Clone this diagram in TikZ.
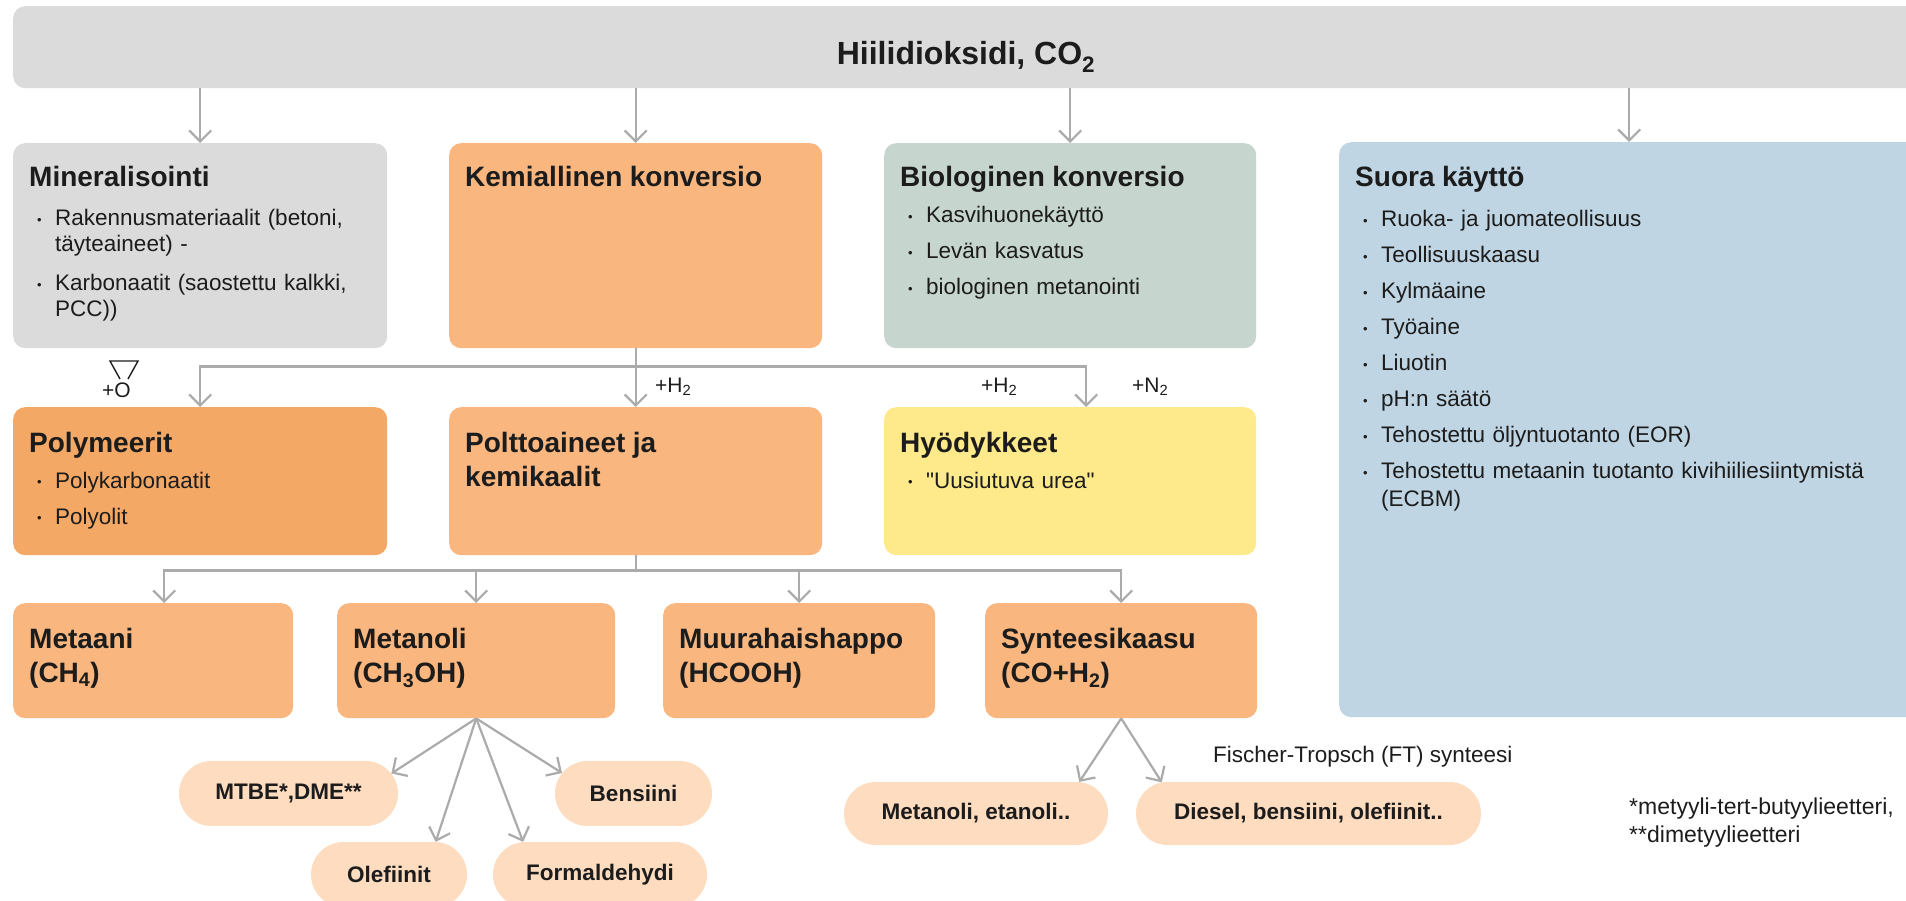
\documentclass[tikz,border=0pt]{standalone}
\usepackage{fontspec}
\setmainfont{Liberation Sans}
\usepackage{xcolor}
\usepackage{tikz}
\usetikzlibrary{shapes,arrows.meta,positioning,calc}

\definecolor{cgray}{HTML}{DBDBDB}
\definecolor{corange}{HTML}{F9B77F}
\definecolor{cdark}{HTML}{F4A866}
\definecolor{cgreen}{HTML}{C6D5CE}
\definecolor{cblue}{HTML}{C0D5E3}
\definecolor{cyellow}{HTML}{FEEA8B}
\definecolor{cpill}{HTML}{FDDCC0}
\definecolor{cline}{HTML}{ABABAB}
\definecolor{ctext}{HTML}{1C1C1C}

\newcommand{\ttl}{\fontsize{28}{34}\selectfont\bfseries}
\newcommand{\dotmark}{\raisebox{1.5pt}{\fontsize{13}{13}\selectfont\textbullet}}
\newcommand{\bpt}[2][8pt]{\par\vspace{#1}\noindent\hbox to 8pt{}\hbox to 18pt{\dotmark\hfil}#2}
\newcommand{\cont}[1]{\par\noindent\hbox to 26pt{}#1}

\begin{document}
\begin{tikzpicture}[x=1pt, y=-1pt, >={Straight Barb[length=11pt,width=22pt]}]
    % Define styles
    \tikzstyle{box} = [rectangle, rounded corners=12pt, anchor=north west, inner sep=0pt]
    \tikzstyle{txt} = [anchor=base west, inner sep=0pt, align=left, text=ctext, font=\fontsize{22.5}{28}\selectfont]
    \tikzstyle{pill} = [rounded rectangle, inner sep=0pt, fill=cpill, text=ctext, font=\fontsize{22.5}{27}\selectfont\bfseries]
    \tikzstyle{lbl} = [anchor=base west, inner sep=0pt, text=ctext, font=\fontsize{21}{24}\selectfont]
    \tikzstyle{conn} = [draw=cline, line width=2.2pt]

    \useasboundingbox (0,0) rectangle (1906,901);
    \clip (0,0) rectangle (1906,901);

    % Source
    \node[box, fill=cgray, minimum width=1906pt, minimum height=82pt] (co2) at (13,6) {};
    \node[anchor=base, inner sep=0pt, text=ctext, font=\fontsize{32}{38}\selectfont\bfseries] (co2-t) at (966,65) {Hiilidioksidi, CO\textsubscript{2}};

    % First row
    \node[box, fill=cgray, minimum width=374pt, minimum height=205pt] (mineral) at (13,143) {};
    \node[box, fill=corange, minimum width=373pt, minimum height=205pt] (kemia) at (449,143) {};
    \node[box, fill=cgreen, minimum width=372pt, minimum height=205pt] (bio) at (884,143) {};
    \node[box, fill=cblue, minimum width=580pt, minimum height=575pt] (suora) at (1339,142) {};

    \node[txt, text width=342pt, font=\fontsize{22.5}{26}\selectfont] (mineral-t) at ([shift={(16,44)}]mineral.north west)
        {{\ttl Mineralisointi\par}\bpt[13pt]{Rakennusmateriaalit (betoni,}\cont{täyteaineet) -}\bpt[13pt]{Karbonaatit (saostettu kalkki,}\cont{PCC))}\par};
    \node[txt, text width=341pt] (kemia-t) at ([shift={(16,44)}]kemia.north west) {{\ttl Kemiallinen konversio\par}};
    \node[txt, text width=340pt] (bio-t) at ([shift={(16,44)}]bio.north west)
        {{\ttl Biologinen konversio\par}\bpt{Kasvihuonekäyttö}\bpt{Levän kasvatus}\bpt{biologinen metanointi}\par};
    \node[txt, text width=548pt] (suora-t) at ([shift={(16,45)}]suora.north west)
        {{\ttl Suora käyttö\par}\bpt[12pt]{Ruoka- ja juomateollisuus}\bpt{Teollisuuskaasu}\bpt{Kylmäaine}\bpt{Työaine}\bpt{Liuotin}\bpt{pH:n säätö}\bpt{Tehostettu öljyntuotanto (EOR)}\bpt{Tehostettu metaanin tuotanto kivihiiliesiintymistä}\cont{(ECBM)}\par};

    % Second row
    \node[box, fill=cdark, minimum width=374pt, minimum height=148pt] (poly) at (13,407) {};
    \node[box, fill=corange, minimum width=373pt, minimum height=148pt] (polt) at (449,407) {};
    \node[box, fill=cyellow, minimum width=372pt, minimum height=148pt] (hyod) at (884,407) {};

    \node[txt, text width=342pt] (poly-t) at ([shift={(16,45)}]poly.north west)
        {{\ttl Polymeerit\par}\bpt{Polykarbonaatit}\bpt{Polyolit}\par};
    \node[txt, text width=341pt] (polt-t) at ([shift={(16,45)}]polt.north west) {{\ttl Polttoaineet ja\newline kemikaalit\par}};
    \node[txt, text width=340pt] (hyod-t) at ([shift={(16,45)}]hyod.north west)
        {{\ttl Hyödykkeet\par}\bpt{\textquotedbl Uusiutuva urea\textquotedbl}\par};

    % Third row
    \node[box, fill=corange, minimum width=280pt, minimum height=115pt] (metaani) at (13,603) {};
    \node[box, fill=corange, minimum width=278pt, minimum height=115pt] (metanoli) at (337,603) {};
    \node[box, fill=corange, minimum width=272pt, minimum height=115pt] (muura) at (663,603) {};
    \node[box, fill=corange, minimum width=272pt, minimum height=115pt] (synt) at (985,603) {};

    \node[txt, text width=250pt] (metaani-t) at ([shift={(16,45)}]metaani.north west) {{\ttl Metaani\newline (CH\textsubscript{4})\par}};
    \node[txt, text width=248pt] (metanoli-t) at ([shift={(16,45)}]metanoli.north west) {{\ttl Metanoli\newline (CH\textsubscript{3}OH)\par}};
    \node[txt, text width=242pt] (muura-t) at ([shift={(16,45)}]muura.north west) {{\ttl Muurahaishappo\newline (HCOOH)\par}};
    \node[txt, text width=242pt] (synt-t) at ([shift={(16,45)}]synt.north west) {{\ttl Synteesikaasu\newline (CO+H\textsubscript{2})\par}};

    % Products
    \node[pill, minimum width=219pt, minimum height=65pt] (mtbe) at (288.5,793.5) {MTBE*,DME**};
    \node[pill, minimum width=157pt, minimum height=65pt] (bens) at (633.5,793.5) {Bensiini};
    \node[pill, minimum width=156pt, minimum height=65pt] (olef) at (389,874.5) {Olefiinit};
    \node[pill, minimum width=214pt, minimum height=65pt] (form) at (600,874.5) {Formaldehydi};
    \node[pill, minimum width=264pt, minimum height=63pt] (etan) at (976,813.5) {Metanoli, etanoli..};
    \node[pill, minimum width=345pt, minimum height=63pt] (diesel) at (1308.5,813.5) {Diesel, bensiini, olefiinit..};

    % Labels
    \node[lbl] (plus-o) at (102,397) {+O};
    \draw[ctext, line width=1.4pt] (120,379) -- (110,361) -- (138,361) -- (128,379);
    \node[lbl] (h2-a) at (655,392) {+H\textsubscript{2}};
    \node[lbl] (h2-b) at (981,392) {+H\textsubscript{2}};
    \node[lbl] (n2) at (1132,392) {+N\textsubscript{2}};
    \node[lbl, font=\fontsize{22.5}{27}\selectfont] (ft) at (1213,762) {Fischer-Tropsch (FT) synteesi};
    \node[txt, text width=290pt, font=\fontsize{23}{28}\selectfont] (note) at (1629,814) {*metyyli-tert-butyylieetteri,\newline **dimetyylieetteri};

    % Source arrows
    \draw[conn, ->] (co2.south -| mineral.north) -- (mineral.north);
    \draw[conn, ->] (co2.south -| kemia.north) -- (kemia.north);
    \draw[conn, ->] (co2.south -| bio.north) -- (bio.north);
    \draw[conn, ->] (co2.south -| suora.north) -- (suora.north);

    % Chemical conversion
    \draw[conn, ->] (kemia.south) -- (polt.north);
    \draw[conn, ->] (kemia.south) -- ++(0,18) -| (poly.north);
    \draw[conn, ->] ($(kemia.south)+(0,18)$) -| ([xshift=16pt]hyod.north);

    % Fuels and chemicals
    \draw[conn] (polt.south) -- ++(0,15);
    \draw[conn, ->] ($(polt.south)+(0,15)$) -| ([xshift=11pt]metaani.north);
    \draw[conn, ->] ($(polt.south)+(0,15)$) -| (metanoli.north);
    \draw[conn, ->] ($(polt.south)+(0,15)$) -| (muura.north);
    \draw[conn, ->] ($(polt.south)+(0,15)$) -| (synt.north);

    % Methanol and syngas products
    \draw[conn, ->] (metanoli.south) -- (mtbe.11);
    \draw[conn, ->] (metanoli.south) -- (olef.35);
    \draw[conn, ->] (metanoli.south) -- (form.157);
    \draw[conn, ->] (metanoli.south) -- (bens.164);
    \draw[conn, ->] (synt.south) -- (etan.17);
    \draw[conn, ->] (synt.south) -- (diesel.168);

\end{tikzpicture}
\end{document}
